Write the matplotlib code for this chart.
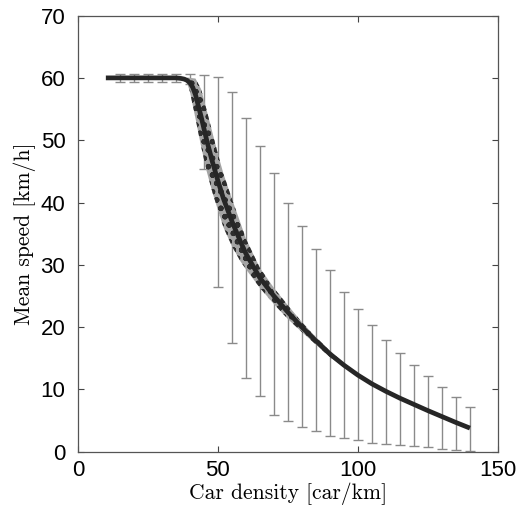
import matplotlib
matplotlib.use('Agg')
import matplotlib.pyplot as plt
import numpy as np

# mean speed curve
dens = [10, 15, 20, 25, 30, 35, 37, 38, 39, 40, 41, 42, 44, 46, 48, 50, 52, 55, 58,
        60, 65, 70, 75, 80, 85, 90, 95, 100, 105, 110, 115, 120, 125, 130, 135, 140]
speed = [60, 60, 60, 60, 60, 60, 59.9, 59.8, 59.6, 59.2, 58.5, 57.3, 53.8, 50.0,
         46.6, 43.5, 40.6, 37.0, 33.8, 31.8, 27.9, 25.0, 22.4, 20.0, 17.8, 15.7,
         13.9, 12.3, 10.9, 9.7, 8.6, 7.6, 6.6, 5.65, 4.7, 3.8]

# spread of the simulated points around the mean
cloud_x = [39, 40, 42, 44, 46, 48, 50, 52, 55, 58, 60, 65, 70, 75, 80, 85, 90, 95, 100]
cloud_lo = [59.2, 57.8, 53.5, 49.0, 45.0, 41.7, 38.8, 36.0, 33.0, 30.6, 29.3, 26.3,
            23.7, 21.3, 19.2, 17.2, 15.2, 13.6, 12.1]
cloud_hi = [60.0, 60.0, 59.9, 58.2, 54.8, 51.3, 47.8, 44.6, 40.6, 36.8, 34.2, 29.5,
            26.3, 23.5, 20.8, 18.4, 16.2, 14.2, 12.5]

# error bars
bar_x = [15, 20, 25, 30, 35, 40, 45, 50, 55, 60, 65, 70, 75, 80, 85, 90, 95,
         100, 105, 110, 115, 120, 125, 130, 135, 140]
bar_hi = [60.6, 60.6, 60.6, 60.6, 60.6, 60.7, 60.5, 60.1, 57.7, 53.6, 49.0, 44.7,
          40.0, 36.3, 32.5, 29.1, 25.7, 22.9, 20.4, 18.0, 15.8, 14.0, 12.1, 10.4, 8.8, 7.2]
bar_lo = [59.4, 59.4, 59.4, 59.4, 59.4, 59.0, 45.3, 26.4, 17.4, 11.9, 8.9, 5.9,
          5.0, 3.9, 3.4, 2.5, 2.2, 1.9, 1.4, 1.3, 1.1, 1.0, 0.7, 0.5, 0.3, 0.2]

plt.rcParams['hatch.linewidth'] = 1.6

fig = plt.figure(figsize=(5.19, 5.19), dpi=100)
ax = fig.add_axes([0.150, 0.1295, 0.8095, 0.8405])

# 误差棒
lo = np.array(bar_lo)
hi = np.array(bar_hi)
mid = (lo + hi) / 2
ax.errorbar(bar_x, mid, yerr=(hi - lo) / 2, fmt='none', ecolor='#8a8a8a',
            elinewidth=1.0, capsize=3.5, capthick=1.0, zorder=1)

# 散点云
ax.fill_between(cloud_x, cloud_lo, cloud_hi, facecolor='#a4a4a4', edgecolor='#2e2e2e',
                hatch='oo', linewidth=0, zorder=2)

# 平均曲线
ax.plot(dens, speed, color='#262626', lw=3.4, solid_capstyle='butt', zorder=3)

ax.set_xlim(0, 150)
ax.set_ylim(0, 70)
ax.set_xticks([0, 50, 100, 150])
ax.set_yticks(range(0, 71, 10))
ax.tick_params(direction='in', length=4, width=0.8, color='#444444',
               top=True, right=True, labelsize=16)
ax.tick_params(axis='x', pad=6)
ax.tick_params(axis='y', pad=9)
for lab in ax.get_xticklabels() + ax.get_yticklabels():
    lab.set_family('Liberation Sans')
for sp in ax.spines.values():
    sp.set_color('#555555')
    sp.set_linewidth(0.9)

ax.set_xlabel('Car density [car/km]', family='cmr10', fontsize=15.5, labelpad=1)
ax.set_ylabel('Mean speed [km/h]', family='cmr10', fontsize=15.5, labelpad=3)

fig.savefig('out.png', dpi=100)
